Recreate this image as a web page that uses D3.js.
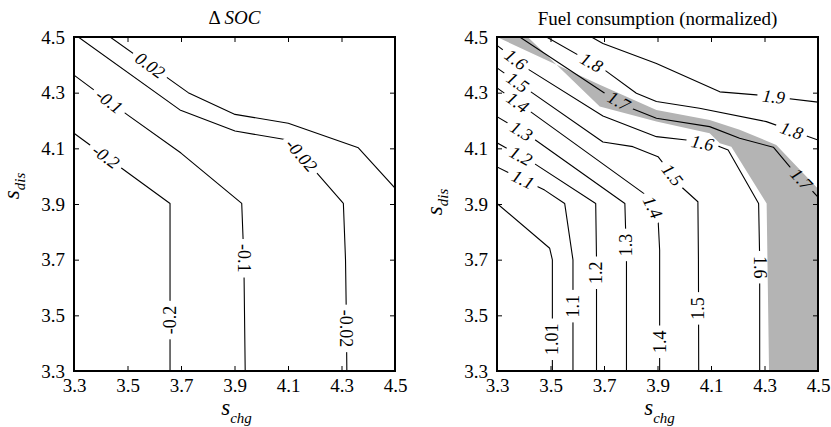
<!DOCTYPE html>
<html><head><meta charset="utf-8">
<script src="https://cdn.jsdelivr.net/npm/d3@7"></script>
<style>
body{margin:0;background:#fff}
svg{display:block}
</style>
</head><body>
<svg id="chart" width="831" height="427"></svg>
<script>
// ---------- DATA ----------
const axisTicks = [3.3, 3.5, 3.7, 3.9, 4.1, 4.3, 4.5];
const axisTickLabels = ["3.3", "3.5", "3.7", "3.9", "4.1", "4.3", "4.5"];

// Left panel: Δ SOC contour lines, points [s_chg, s_dis]
const soc_p002 = [[3.435,4.5],[3.727,4.300],[3.902,4.222],[4.101,4.190],[4.363,4.102],[4.5,3.957]];
const soc_m002 = [[3.316,4.5],[3.696,4.238],[3.902,4.162],[4.1,4.13],[4.307,3.902],[4.315,3.7],[4.318,3.5],[4.32,3.3]];
const soc_m01  = [[3.3,4.363],[3.5,4.22],[3.7,4.083],[3.927,3.902],[3.935,3.7],[3.94,3.3]];
const soc_m02  = [[3.3,4.154],[3.5,4.013],[3.659,3.902],[3.659,3.3]];
// contour labels [text, s_chg, s_dis, vertical orientation (0 = along line, 1 = down, -1 = up)]
const socLabels = [
  ["0.02", 3.584, 4.398, 0],
  ["-0.02", 4.15, 4.075, 0],
  ["-0.1", 3.431, 4.268, 0],
  ["-0.2", 3.418, 4.07, 0],
  ["-0.1", 3.935, 3.705, 1],
  ["-0.2", 3.659, 3.483, -1],
  ["-0.02", 4.318, 3.453, 1]
];

// Right panel: fuel consumption contour lines
const fuel_101 = [[3.3,3.902],[3.497,3.741],[3.507,3.699],[3.507,3.3]];
const fuel_11  = [[3.3,4.033],[3.478,3.950],[3.553,3.902],[3.584,3.699],[3.584,3.3]];
const fuel_12  = [[3.3,4.12],[3.44,4.045],[3.669,3.902],[3.672,3.7],[3.672,3.3]];
const fuel_13  = [[3.3,4.214],[3.433,4.137],[3.778,3.902],[3.784,3.7],[3.784,3.3]];
const fuel_14  = [[3.3,4.317],[3.416,4.238],[3.86,3.93],[3.902,3.849],[3.908,3.735],[3.908,3.3]];
const fuel_15  = [[3.3,4.389],[3.416,4.310],[3.696,4.123],[3.808,4.106],[3.902,4.070],[3.989,3.962],[4.051,3.908],[4.053,3.7],[4.054,3.3]];
const fuel_16  = [[3.3,4.47],[3.422,4.381],[3.696,4.216],[3.896,4.142],[4.008,4.130],[4.133,4.106],[4.164,4.094],[4.278,3.902],[4.282,3.7],[4.282,3.3]];
const fuel_17  = [[3.385,4.5],[3.703,4.298],[3.802,4.244],[3.896,4.208],[4.095,4.178],[4.207,4.136],[4.333,4.104],[4.394,4.034],[4.5,3.925]];
const fuel_18  = [[3.485,4.5],[3.703,4.381],[3.821,4.298],[3.896,4.268],[4.057,4.244],[4.307,4.196],[4.5,4.13]];
const fuel_19  = [[3.653,4.5],[3.696,4.477],[3.896,4.405],[4.133,4.303],[4.27,4.292],[4.5,4.266]];
// shaded (gray) region
const fuelBand = [[3.3,4.5],[3.684,4.328],[3.896,4.238],[4.095,4.202],[4.207,4.167],[4.344,4.112],[4.5,3.955],
                  [4.5,3.3],[4.317,3.3],[4.308,3.902],[4.176,4.106],[4.133,4.118],[4.095,4.154],[3.896,4.196],[3.684,4.250],[3.415,4.5]];
const fuelLabels = [
  ["1.6", 3.37, 4.419, 0], ["1.5", 3.377, 4.337, 0], ["1.4", 3.377, 4.265, 0],
  ["1.3", 3.391, 4.161, 0], ["1.2", 3.389, 4.072, 0], ["1.1", 3.397, 3.988, 0],
  ["1.8", 3.653, 4.408, 0], ["1.7", 3.755, 4.27, 0], ["1.6", 4.068, 4.118, 0],
  ["1.5", 3.955, 4.004, 0], ["1.4", 3.882, 3.888, 0],
  ["1.9", 4.334, 4.285, 0], ["1.8", 4.401, 4.164, 0], ["1.7", 4.438, 3.989, 0],
  ["1.6", 4.282, 3.673, 1], ["1.5", 4.054, 3.525, -1], ["1.4", 3.908, 3.405, -1],
  ["1.3", 3.784, 3.753, -1], ["1.2", 3.672, 3.653, -1], ["1.1", 3.584, 3.533, -1],
  ["1.01", 3.507, 3.414, -1]
];

// ---------- DRAW ----------
const SERIF = '"Liberation Serif", "Times New Roman", Times, "DejaVu Serif", serif';
const svg = d3.select("#chart").style("font-family", SERIF);
const Y0 = 37, Y1 = 371;
const labelFont = 18, tickFont = 19;

const panels = [
  { id: "soc", x0: 74, x1: 395, lines: [soc_p002, soc_m002, soc_m01, soc_m02], labels: socLabels, band: null,
    title: "soc", ylabX: 19, ylabY: 186 },
  { id: "fuel", x0: 497, x1: 818, lines: [fuel_101, fuel_11, fuel_12, fuel_13, fuel_14, fuel_15, fuel_16, fuel_17, fuel_18, fuel_19],
    labels: fuelLabels, band: fuelBand, title: "Fuel consumption (normalized)", ylabX: 442, ylabY: 202 }
];

const defs = svg.append("defs");
function T(sel) { return sel.attr("font-family", SERIF).style("font-family", SERIF).attr("fill", "#000"); }

panels.forEach(p => {
  const x = d3.scaleLinear().domain([3.3, 4.5]).range([p.x0, p.x1]);
  const y = d3.scaleLinear().domain([3.3, 4.5]).range([Y1, Y0]);
  const g = svg.append("g");

  defs.append("clipPath").attr("id", "clip-" + p.id)
    .append("rect").attr("x", p.x0).attr("y", Y0).attr("width", p.x1 - p.x0).attr("height", Y1 - Y0);

  const line = d3.line().x(d => x(d[0])).y(d => y(d[1]));

  if (p.band) {
    g.append("path").attr("d", line(p.band) + "Z")
      .attr("fill", "#b4b4b4").attr("stroke", "none")
      .attr("clip-path", "url(#clip-" + p.id + ")");
  }

  const pxLines = p.lines.map(l => l.map(d => [x(d[0]), y(d[1])]));
  function nearest(px, py) {
    let best = null;
    pxLines.forEach(L => {
      for (let i = 0; i < L.length - 1; i++) {
        const a = L[i], b = L[i + 1];
        const dx = b[0] - a[0], dy = b[1] - a[1];
        let t = ((px - a[0]) * dx + (py - a[1]) * dy) / (dx * dx + dy * dy);
        t = Math.max(0, Math.min(1, t));
        const qx = a[0] + t * dx, qy = a[1] + t * dy;
        const dist = Math.hypot(px - qx, py - qy);
        if (!best || dist < best.dist) best = { dist, qx, qy, ang: Math.atan2(dy, dx) * 180 / Math.PI };
      }
    });
    return best;
  }

  const labG = g.append("g");
  const placed = p.labels.map(lb => {
    const n = nearest(x(lb[1]), y(lb[2]));
    let ang = n.ang;
    if (lb[3] !== 0) ang = lb[3] * 90;
    else { if (ang > 90) ang -= 180; if (ang <= -90) ang += 180; }
    const t = T(labG.append("text"))
      .attr("transform", `translate(${n.qx},${n.qy}) rotate(${ang})`)
      .attr("text-anchor", "middle").attr("dy", "0.33em")
      .style("font-size", labelFont + "px")
      .style("font-style", lb[3] === 0 ? "italic" : "normal")
      .text(lb[0]);
    return { qx: n.qx, qy: n.qy, ang, w: t.node().getComputedTextLength() };
  });

  const mask = defs.append("mask").attr("id", "mask-" + p.id).attr("maskUnits", "userSpaceOnUse")
    .attr("x", 0).attr("y", 0).attr("width", 831).attr("height", 427);
  mask.append("rect").attr("x", 0).attr("y", 0).attr("width", 831).attr("height", 427).attr("fill", "#fff");
  placed.forEach(pl => {
    mask.append("rect")
      .attr("x", -pl.w / 2 - 5).attr("y", -labelFont * 0.45)
      .attr("width", pl.w + 10).attr("height", labelFont * 0.9)
      .attr("transform", `translate(${pl.qx},${pl.qy}) rotate(${pl.ang})`)
      .attr("fill", "#000");
  });

  const cg = g.insert("g", () => labG.node())
    .attr("clip-path", "url(#clip-" + p.id + ")");
  cg.append("g").attr("mask", "url(#mask-" + p.id + ")")
    .selectAll("path").data(p.lines).join("path")
    .attr("d", line).attr("fill", "none").attr("stroke", "#000").attr("stroke-width", 1.1)
    .attr("stroke-linejoin", "round");

  const fmt = (d, i) => axisTickLabels[i];
  const ax = g.append("g").attr("transform", `translate(0,${Y1})`)
    .call(d3.axisBottom(x).tickValues(axisTicks).tickFormat(fmt).tickSize(-5).tickPadding(8));
  const ay = g.append("g").attr("transform", `translate(${p.x0},0)`)
    .call(d3.axisLeft(y).tickValues(axisTicks).tickFormat(fmt).tickSize(-5).tickPadding(9));
  const at = g.append("g").attr("transform", `translate(0,${Y0})`)
    .call(d3.axisTop(x).tickValues(axisTicks).tickFormat("").tickSize(-5));
  const ar = g.append("g").attr("transform", `translate(${p.x1},0)`)
    .call(d3.axisRight(y).tickValues(axisTicks).tickFormat("").tickSize(-5));
  [ax, ay, at, ar].forEach(a => {
    a.attr("font-family", SERIF).attr("font-size", tickFont);
    a.select(".domain").remove();
    a.selectAll("line").attr("stroke", "#000").attr("stroke-width", 1);
    T(a.selectAll("text")).style("font-size", tickFont + "px");
  });
  g.append("rect").attr("x", p.x0).attr("y", Y0).attr("width", p.x1 - p.x0).attr("height", Y1 - Y0)
    .attr("fill", "none").attr("stroke", "#000").attr("stroke-width", 2);

  const cx = (p.x0 + p.x1) / 2;
  if (p.title === "soc") {
    const tt = T(g.append("text")).attr("x", cx).attr("y", 24).attr("text-anchor", "middle").style("font-size", "19px");
    tt.append("tspan").text("Δ ");
    tt.append("tspan").style("font-style", "italic").text("SOC");
  } else {
    T(g.append("text")).attr("x", cx).attr("y", 25).attr("text-anchor", "middle").style("font-size", "19px").text(p.title);
  }

  const xl = T(g.append("text")).attr("x", cx + 2).attr("y", 415).attr("text-anchor", "middle").style("font-style", "italic");
  xl.append("tspan").style("font-size", "23px").text("s");
  xl.append("tspan").style("font-size", "15px").attr("dy", 8).text("chg");
  const yl = T(g.append("text")).attr("transform", `translate(${p.ylabX},${p.ylabY}) rotate(-90)`)
    .attr("text-anchor", "middle").style("font-style", "italic");
  yl.append("tspan").style("font-size", "23px").text("s");
  yl.append("tspan").style("font-size", "15px").attr("dy", 6).text("dis");
});
</script>
</body></html>
